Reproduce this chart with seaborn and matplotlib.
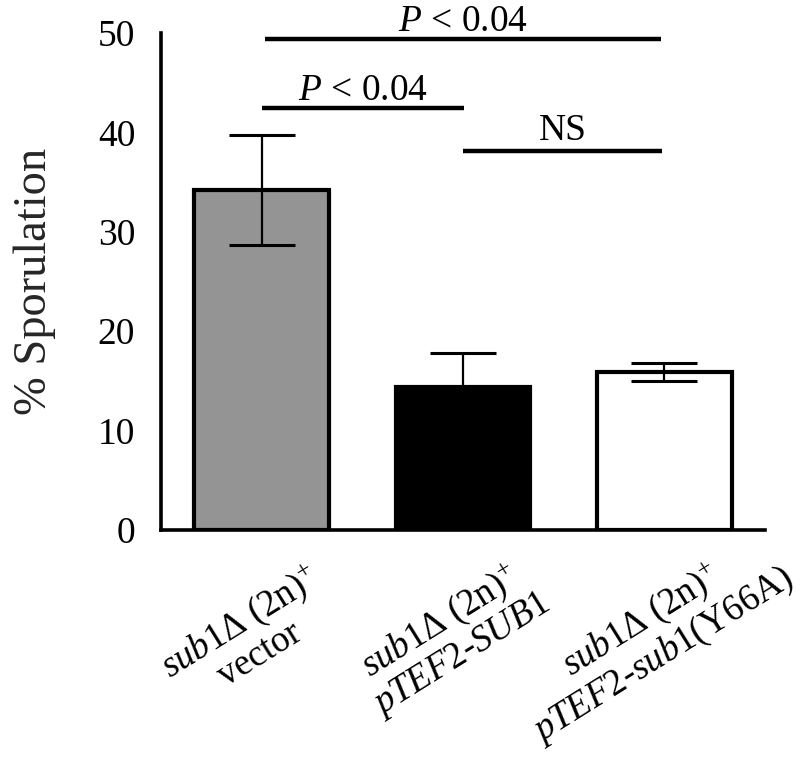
import matplotlib
matplotlib.use("Agg")
import matplotlib.pyplot as plt
import matplotlib.transforms as mtransforms
import seaborn as sns
import pandas as pd

# ---- data ----
categories = ["vector", "pTEF2-SUB1", "pTEF2-sub1(Y66A)"]
tick_labels = [
    r"$\mathit{sub1}$Δ (2n)$^{+}$" + "\n" + "vector",
    r"$\mathit{sub1}$Δ (2n)$^{+}$" + "\n" + r"$\mathit{pTEF2}$-$\mathit{SUB1}$",
    r"$\mathit{sub1}$Δ (2n)$^{+}$" + "\n" + r"$\mathit{pTEF2}$-$\mathit{sub1}$(Y66A)",
]
sporulation = [34.2, 14.4, 15.9]
errors = [5.5, 3.4, 0.95]
bar_colors = ["#949494", "#000000", "#ffffff"]
comparisons = [(0, 2), (0, 1), (1, 2)]
comparison_labels = [r"$\mathit{P}$ < 0.04", r"$\mathit{P}$ < 0.04", "NS"]
y_ticks = [0, 10, 20, 30, 40, 50]

# ---- style ----
sns.set_theme(style="white")
plt.rcParams["font.family"] = ["Liberation Serif", "DejaVu Serif"]
plt.rcParams["mathtext.fontset"] = "custom"
plt.rcParams["mathtext.rm"] = "Liberation Serif"
plt.rcParams["mathtext.it"] = "Liberation Serif:italic"
plt.rcParams["mathtext.bf"] = "Liberation Serif:bold"

df = pd.DataFrame({"group": categories, "value": sporulation})

fig = plt.figure(figsize=(8.0, 7.64), dpi=100)
ax = fig.add_axes([0.2013, 0.3063, 0.7547, 0.6505])

sns.barplot(data=df, x="group", y="value", hue="group", palette=bar_colors,
            order=categories, hue_order=categories, errorbar=None,
            width=0.67, edgecolor="black", linewidth=3.0, legend=False,
            saturation=1, ax=ax)

xs = [p.get_x() + p.get_width() / 2 for p in ax.patches]
ax.errorbar(xs, sporulation, yerr=errors, fmt="none", ecolor="black",
            elinewidth=1.6, capsize=24, capthick=2.2, zorder=5)

ax.set_xlim(-0.5, 2.5)
ax.set_ylim(0, 50)
ax.set_yticks(y_ticks)
ax.set_yticklabels([str(t) for t in y_ticks])
ax.set_xticks(range(len(categories)))
ax.set_xlabel("")
ax.set_ylabel("% Sporulation", fontsize=33.5, labelpad=30)

for s in ["top", "right"]:
    ax.spines[s].set_visible(False)
for s in ["left", "bottom"]:
    ax.spines[s].set_linewidth(2.6)
    ax.spines[s].set_color("black")

ax.tick_params(axis="both", direction="out", length=8.6, width=2.2,
               color="black", labelsize=27, labelcolor="black")
ax.tick_params(axis="y", pad=10)
ax.tick_params(axis="x", pad=69, labelsize=26.5)

ax.set_xticklabels(tick_labels, rotation=32, rotation_mode="anchor",
                   ha="center", va="center", multialignment="center",
                   linespacing=1.05)
shift = mtransforms.ScaledTranslation(-12 / 100, 0, fig.dpi_scale_trans)
for lab in ax.get_xticklabels():
    lab.set_transform(lab.get_transform() + shift)

# significance lines
line_heights = [49.4, 42.45, 38.1]
text_offsets = [0.8, 0.8, 1.1]
insets = [(0.015, 0.015), (0.0, -0.005), (0.0, 0.01)]
for (i, j), lab, h, off, (a, b) in zip(comparisons, comparison_labels,
                                       line_heights, text_offsets, insets):
    x1 = xs[i] + a
    x2 = xs[j] - b
    ax.plot([x1, x2], [h, h], color="black", lw=3.2, solid_capstyle="butt",
            clip_on=False, zorder=6)
    ax.text((x1 + x2) / 2, h + off, lab, ha="center", va="baseline",
            fontsize=27, color="black", clip_on=False)

fig.savefig("out.png", dpi=100)
